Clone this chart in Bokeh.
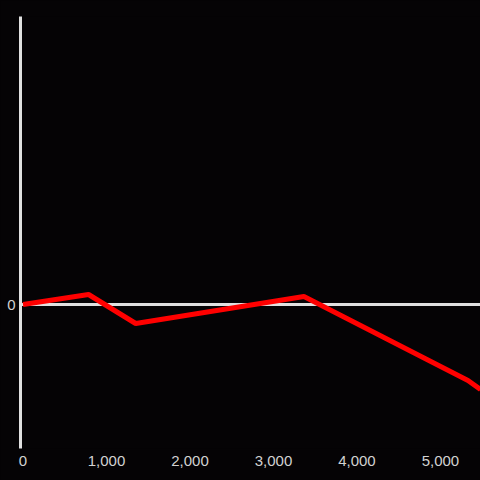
from bokeh.plotting import figure
from bokeh.models import FixedTicker, NumeralTickFormatter, Span, Range1d
from bokeh.embed import file_html
from bokeh.resources import INLINE

xs = [0, 785, 1350, 3365, 5330, 5480]
ys = [0, 10, -19, 8, -76, -85]
x_ticks = [0, 1000, 2000, 3000, 4000, 5000]
y_ticks = [0]

BG = "#050305"
AX = "#e0e0e0"
TXT = "#d2d2d2"

p = figure(width=480, height=480, output_backend="svg", toolbar_location=None,
           x_range=Range1d(-30, 5480), y_range=Range1d(-144, 288),
           min_border_left=20, min_border_right=0, min_border_top=16, min_border_bottom=32)
p.background_fill_color = BG
p.border_fill_color = BG
p.outline_line_color = None
p.grid.visible = False

p.add_layout(Span(location=0, dimension="width", line_color=AX, line_width=3, level="underlay"))
p.line(xs, ys, line_color="#ff0000", line_width=5)

p.xaxis.ticker = FixedTicker(ticks=x_ticks)
p.xaxis.formatter = NumeralTickFormatter(format="0,0")
p.xaxis.axis_line_color = None
p.xaxis.major_tick_line_color = None
p.xaxis.minor_tick_line_color = None
p.xaxis.major_tick_out = 0
p.xaxis.major_label_standoff = 7

p.yaxis.ticker = FixedTicker(ticks=y_ticks)
p.yaxis.axis_line_color = AX
p.yaxis.axis_line_width = 3
p.yaxis.major_tick_line_color = None
p.yaxis.minor_tick_line_color = None
p.yaxis.major_tick_out = 0
p.yaxis.major_label_standoff = 5

for ax in (p.xaxis, p.yaxis):
    ax.major_label_text_color = TXT
    ax.major_label_text_font = "Liberation Sans"
    ax.major_label_text_font_size = "15px"

html = file_html(p, INLINE)
html = html.replace("<head>", "<head><style>html,body{background:#050305;}</style>", 1)
open("out.html", "w").write(html)
